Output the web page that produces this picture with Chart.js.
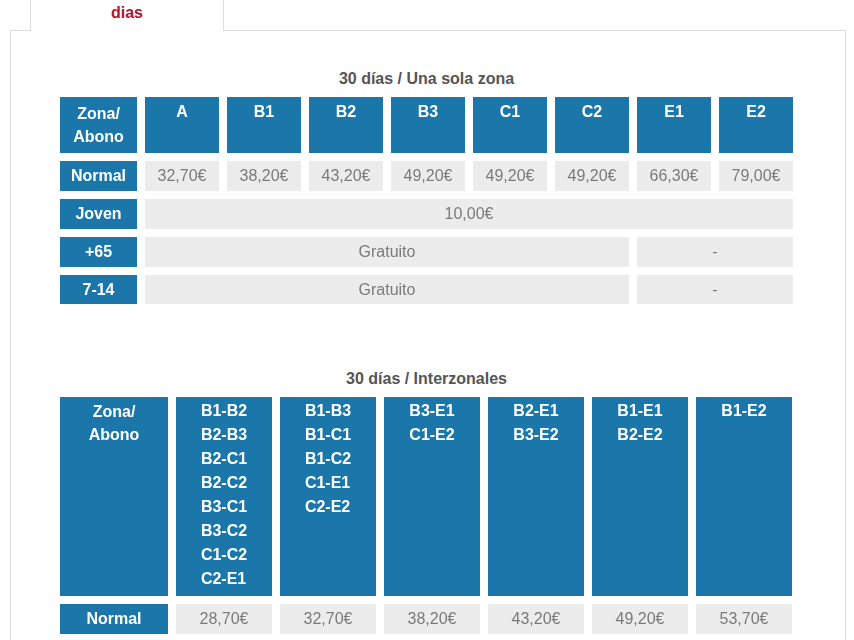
<!DOCTYPE html>
<html><head><meta charset="utf-8">
<script src="https://cdn.jsdelivr.net/npm/chart.js@4"></script>
<style>
body{margin:0;background:#fff;font-family:"Liberation Sans",Arial,sans-serif;}
#tab{position:absolute;left:30px;top:-2px;width:192px;height:32px;border:1px solid #ddd;border-bottom:none;background:#fff;text-align:center;color:#b0142c;font-weight:bold;font-size:16px;line-height:28px;z-index:2;overflow:hidden}
#tab span{position:absolute;left:0;right:0;top:-21px}
#panel{position:absolute;left:10px;top:30px;width:834px;height:640px;border:1px solid #ddd}
.t{position:absolute;left:60px;width:733px;text-align:center;color:#555;font-weight:bold;font-size:16px}
canvas{position:absolute;left:60px}
</style></head><body>
<div id="panel"></div>
<div id="tab"><span>Abono 30</span>dias</div>
<div class="t" style="top:70px">30 días / Una sola zona</div>
<canvas id="t1" width="733" height="207" style="top:97px"></canvas>
<div class="t" style="top:370px">30 días / Interzonales</div>
<canvas id="t2" width="733" height="237" style="top:397px"></canvas>
<script>
// tabla 1
var zonas = ["A","B1","B2","B3","C1","C2","E1","E2"];
var filas1 = ["Normal","Joven","+65","7-14"];
var preciosNormal = ["32,70€","38,20€","43,20€","49,20€","49,20€","49,20€","66,30€","79,00€"];
// [texto, columnas que ocupa]
var preciosJoven = [["10,00€",8]];
var precios65 = [["Gratuito",6],["-",2]];
var precios714 = [["Gratuito",6],["-",2]];

// tabla 2
var grupos = [["B1-B2","B2-B3","B2-C1","B2-C2","B3-C1","B3-C2","C1-C2","C2-E1"],
              ["B1-B3","B1-C1","B1-C2","C1-E1","C2-E2"],
              ["B3-E1","C1-E2"],["B2-E1","B3-E2"],["B1-E1","B2-E2"],["B1-E2"]];
var preciosInter = ["28,70€","32,70€","38,20€","43,20€","49,20€","53,70€"];

var AZUL = "#1b76a9", GRIS = "#ececec", TXT = "#7a7a7a";

function tabla(id, w, h, cells) {
  new Chart(document.getElementById(id), {
    type: 'scatter',
    data: {datasets: [{data: []}]},
    options: {
      responsive: false, animation: false, devicePixelRatio: 1,
      layout: {padding: 0},
      plugins: {legend: {display: false}, tooltip: {enabled: false}},
      scales: {
        x: {type: 'linear', min: 0, max: w, display: false},
        y: {type: 'linear', min: 0, max: h, reverse: true, display: false}
      }
    },
    plugins: [{
      id: 'celdas',
      afterDraw: function (chart) {
        var c = chart.ctx, sx = chart.scales.x, sy = chart.scales.y;
        cells.forEach(function (k) {
          var x0 = sx.getPixelForValue(k.x), x1 = sx.getPixelForValue(k.x + k.w);
          var y0 = sy.getPixelForValue(k.y), y1 = sy.getPixelForValue(k.y + k.h);
          c.fillStyle = k.head ? AZUL : GRIS;
          c.fillRect(x0, y0, x1 - x0, y1 - y0);
          c.fillStyle = k.head ? "#fff" : TXT;
          c.font = (k.head ? "bold 16px" : "16px") + " 'Liberation Sans', Arial, sans-serif";
          c.textBaseline = "middle";
          var lines = k.text;
          if (k.left) {
            c.textAlign = "left";
            var mw = Math.max.apply(null, lines.map(function (s) { return c.measureText(s).width; }));
            lines.forEach(function (s, i) { c.fillText(s, (x0 + x1) / 2 - mw / 2, y0 + 15 + i * 24); });
          } else {
            c.textAlign = "center";
            var top = k.top ? y0 + 16 : (y0 + y1) / 2 - (lines.length - 1) * 11 + 1;
            lines.forEach(function (s, i) { c.fillText(s, (x0 + x1) / 2, top + i * 23); });
          }
        });
      }
    }]
  });
}

// layout tabla 1
var g = 8, c0 = 77, cw = 74, hh = 56, rh = 30;
var cel1 = [];
function cx(i) { return c0 + g + i * (cw + g); }
cel1.push({x: 0, y: 0, w: c0, h: hh, head: true, text: ["Zona/", "Abono"]});
zonas.forEach(function (z, i) { cel1.push({x: cx(i), y: 0, w: cw, h: hh, head: true, top: true, text: [z]}); });
var filasDatos = [preciosNormal.map(function (p) { return [p, 1]; }), preciosJoven, precios65, precios714];
filas1.forEach(function (f, r) {
  var y = hh + g + r * (rh + g);
  cel1.push({x: 0, y: y, w: c0, h: rh, head: true, text: [f]});
  var col = 0;
  filasDatos[r].forEach(function (p) {
    cel1.push({x: cx(col), y: y, w: p[1] * (cw + g) - g, h: rh, text: [p[0]]});
    col += p[1];
  });
});
tabla("t1", 733, 207, cel1);

// layout tabla 2
var d0 = 108, dw = 96, hh2 = 199;
var cel2 = [];
function dx(i) { return d0 + g + i * (dw + g); }
cel2.push({x: 0, y: 0, w: d0, h: hh2, head: true, top: true, text: ["Zona/", "Abono"]});
grupos.forEach(function (gr, i) { cel2.push({x: dx(i), y: 0, w: dw, h: hh2, head: true, left: true, text: gr}); });
cel2.push({x: 0, y: hh2 + g, w: d0, h: rh, head: true, text: ["Normal"]});
preciosInter.forEach(function (p, i) { cel2.push({x: dx(i), y: hh2 + g, w: dw, h: rh, text: [p]}); });
tabla("t2", 733, 237, cel2);
</script>
</body></html>
